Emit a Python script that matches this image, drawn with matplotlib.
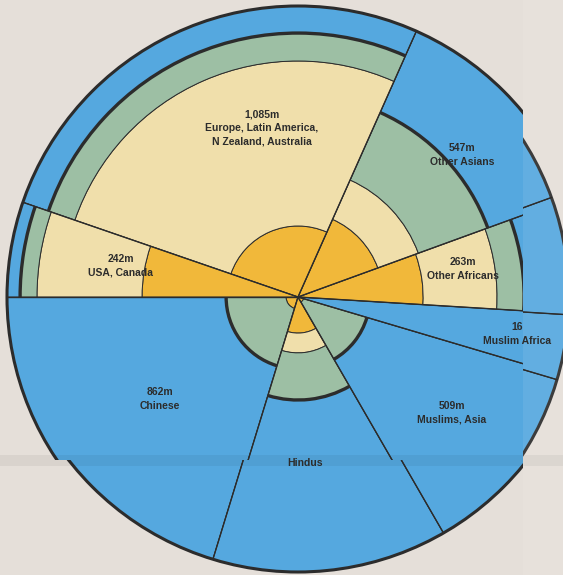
import numpy as np
import matplotlib.pyplot as plt
from matplotlib.patches import Wedge, Circle, Arc, Rectangle

# sectors, counter-clockwise starting from the left horizontal
groups = ['Chinese', 'Hindus', 'Muslims, Asia', 'Muslim Africa', 'Other Africans',
          'Other Asians', 'Europe, Latin America,\nN Zealand, Australia', 'USA, Canada']
numbers = ['862m', '', '509m', '16', '263m', '547m', '1,085m', '242m']
span_deg = [73, 47, 43.5, 13, 23.5, 46, 95, 19]

# outer radius of each ring, in percent of the full circle radius
r_yellow = [4.1, 12.4, 2.0, 0, 43.0, 29.2, 24.4, 53.6]
r_cream = [4.1, 19.2, 2.0, 0, 68.4, 44.0, 81.1, 89.7]
r_green = [24.7, 35.4, 24.7, 0, 77.7, 69.4, 90.7, 95.5]

# label placement as seen on the scan (angle in degrees, radius in percent)
label_ang = [216.5, 272.4, 323, 350.4, 9.6, 40.9, 102, 170]
label_rad = [59, 57, 66.3, 76.3, 57.4, 74.6, 59.5, 61.9]

bg = '#e5dfd9'
yellow = '#f1b83a'
cream = '#f0dfab'
green = '#9dbfa4'
blue = '#55a8df'
ink = '#2c2c2c'

R = 291
cx, cy = 298, 278
# the scanned poster is folded: a strip is hidden at each fold
fold_x, hide_x = 523, 20
fold_y, hide_y = 115, 16

fig = plt.figure(figsize=(5.63, 5.75), dpi=100)
fig.patch.set_facecolor(bg)
ax = fig.add_axes([0, 0, 1, 1])
ax.set_xlim(0, 563)
ax.set_ylim(0, 575)
ax.set_aspect('equal')
ax.axis('off')

start = 180 + np.concatenate([[0], np.cumsum(span_deg)[:-1]])


def draw_chart(ox, oy, xa, ya, xb, yb):
    clip = Rectangle((xa, ya), xb - xa, yb - ya, transform=ax.transData)
    x0, y0 = cx + ox, cy + oy
    arts = []
    for i in range(len(groups)):
        t1, t2 = start[i], start[i] + span_deg[i]
        rings = [(0, r_yellow[i], yellow), (r_yellow[i], r_cream[i], cream),
                 (r_cream[i], r_green[i], green), (r_green[i], 100, blue)]
        for r0, r1, col in rings:
            if r1 > r0:
                arts.append(ax.add_patch(Wedge((x0, y0), r1 * R / 100, t1, t2,
                                               width=(r1 - r0) * R / 100,
                                               facecolor=col, edgecolor=ink, lw=0.7)))
        if r_green[i] > 0:
            d = 2 * r_green[i] * R / 100
            arts.append(ax.add_patch(Arc((x0, y0), d, d, theta1=t1, theta2=t2,
                                         color=ink, lw=2.4)))
    for a in start:
        t = np.radians(a)
        arts += ax.plot([x0, x0 + R * np.cos(t)], [y0, y0 + R * np.sin(t)], color=ink, lw=1.0)
    arts.append(ax.add_patch(Circle((x0, y0), R, fill=False, edgecolor=ink, lw=2.2)))
    for a in arts:
        a.set_clip_path(clip)


pieces = [(0, 0, 0, fold_y, fold_x, 575),
          (-hide_x, 0, fold_x, fold_y, 563, 575),
          (0, hide_y, 0, 0, fold_x, fold_y),
          (-hide_x, hide_y, fold_x, 0, 563, fold_y)]
for p in pieces:
    draw_chart(*p)

# crease marks of the folds
ax.axhspan(fold_y - 6, fold_y + 5, color='k', alpha=0.05, lw=0)
ax.axvspan(fold_x, 563, color='white', alpha=0.08, lw=0)

for i in range(len(groups)):
    t = np.radians(label_ang[i])
    r = label_rad[i] * R / 100
    txt = numbers[i] + '\n' + groups[i] if numbers[i] else groups[i]
    ax.text(cx + r * np.cos(t), cy + r * np.sin(t), txt, ha='center', va='center',
            multialignment='center', fontsize=7.5, fontweight='bold', color=ink,
            family=['Liberation Sans', 'DejaVu Sans'], linespacing=1.45)

fig.savefig('out.png', dpi=100, facecolor=bg)
